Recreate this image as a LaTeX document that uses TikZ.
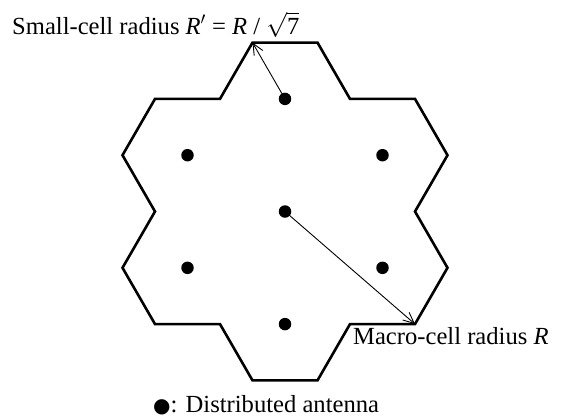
\documentclass[tikz,border=0pt]{standalone}
\usepackage{fontspec}
\setmainfont{Liberation Serif}
\newfontfamily\symfont{DejaVu Sans}
\usetikzlibrary{arrows.meta}
\begin{document}
\begin{tikzpicture}[x=1pt,y=-1pt,
  outline/.style={line width=2.6pt,line join=miter},
  antenna/.style={circle,fill=black,inner sep=0pt,minimum size=12.5pt},
  radius/.style={line width=0.9pt,-{Straight Barb[length=11pt,width=10pt,line width=0.9pt]}},
  lbl/.style={font=\fontsize{24.6}{29}\selectfont,inner sep=0pt}]
\useasboundingbox (0,0) rectangle (571,418);
% antenna nodes (cell centres)
\node[antenna] (c)  at (285,211.5) {};
\node[antenna] (t)  at (285,98.9) {};
\node[antenna] (b)  at (285,324.1) {};
\node[antenna] (ul) at (187.5,155.2) {};
\node[antenna] (ur) at (382.5,155.2) {};
\node[antenna] (ll) at (187.5,267.8) {};
\node[antenna] (lr) at (382.5,267.8) {};
% outline vertices
\coordinate (v1) at (252.5,42.6);
\coordinate (v2) at (317.5,42.6);
\coordinate (v3) at (350,98.9);
\coordinate (v4) at (415,98.9);
\coordinate (v5) at (447.5,155.2);
\coordinate (v6) at (415,211.5);
\coordinate (v7) at (447.5,267.8);
\coordinate (v8) at (415,324.1);
\coordinate (v9) at (350,324.1);
\coordinate (v10) at (317.5,380.4);
\coordinate (v11) at (252.5,380.4);
\coordinate (v12) at (220,324.1);
\coordinate (v13) at (155,324.1);
\coordinate (v14) at (122.5,267.8);
\coordinate (v15) at (155,211.5);
\coordinate (v16) at (122.5,155.2);
\coordinate (v17) at (155,98.9);
\coordinate (v18) at (220,98.9);
\draw[outline] (v1) -- (v2) -- (v3) -- (v4) -- (v5) -- (v6) -- (v7) -- (v8) -- (v9)
  -- (v10) -- (v11) -- (v12) -- (v13) -- (v14) -- (v15) -- (v16) -- (v17) -- (v18) -- cycle;
% radius arrows
\draw[radius] (t.center) -- (v1);
\draw[radius] (c.center) -- (v8);
% labels
\node[lbl,anchor=base west] (small) at (12,34)
  {Small-cell radius \textit{R}$'$ = \textit{R} / $\sqrt{\mbox{\smash{7}\rule{0pt}{16pt}}}$};
\node[lbl,anchor=base west] (macro) at (353,344) {Macro-cell radius \textit{R}};
\node[lbl,anchor=base west] (legend) at (153,412)
  {{\symfont\fontsize{20}{24}\selectfont ●}: Distributed antenna};
\end{tikzpicture}
\end{document}
